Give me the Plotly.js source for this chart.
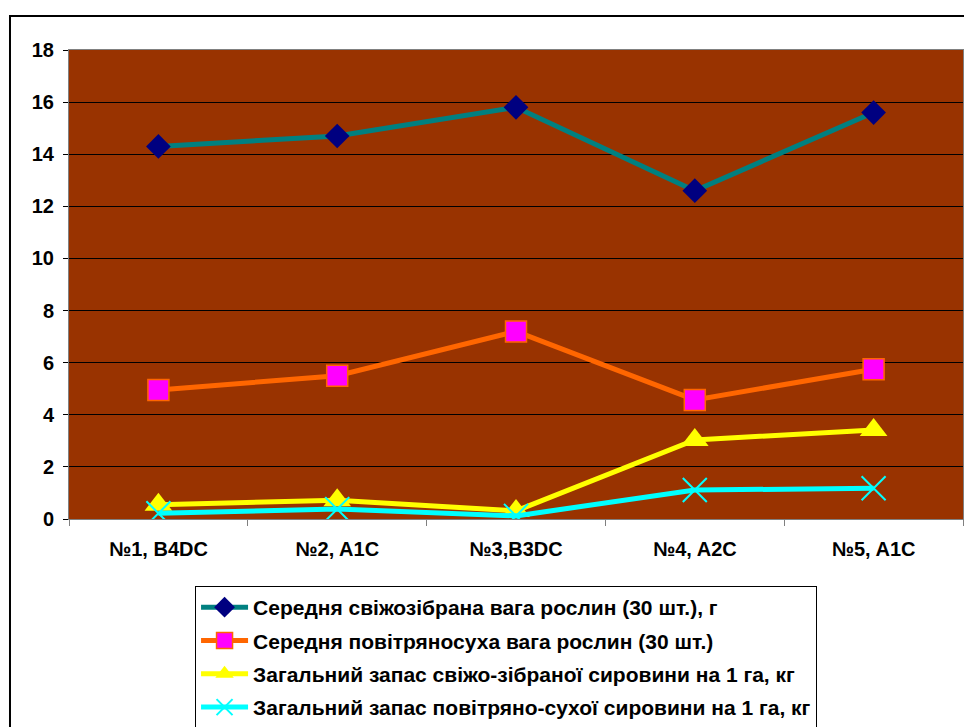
<!DOCTYPE html>
<html>
<head>
<meta charset="utf-8">
<script src="https://cdn.plot.ly/plotly-3.0.1.min.js"></script>
<style>
  html, body { margin: 0; padding: 0; background: #ffffff; }
  #chart { width: 964px; height: 727px; }
</style>
</head>
<body>
<div id="chart"></div>
<script>
// Sample plots (category labels)
const categories = ["№1, B4DC", "№2, A1C", "№3,B3DC", "№4, A2C", "№5, A1C"];

// Series names
const seriesNames = [
  "Середня свіжозібрана вага рослин (30 шт.), г",
  "Середня повітряносуха вага рослин (30 шт.)",
  "Загальний запас свіжо-зібраної сировини на 1 га, кг",
  "Загальний запас повітряно-сухої сировини на 1 га, кг"
];

// Values per series
const freshWeight = [14.3, 14.7, 15.8, 12.6, 15.6];
const airDryWeight = [4.95, 5.5, 7.2, 4.57, 5.75];
const freshStock = [0.55, 0.72, 0.31, 3.03, 3.42];
const dryStock = [0.22, 0.38, 0.12, 1.11, 1.18];

const yTicks = [0, 2, 4, 6, 8, 10, 12, 14, 16, 18];

const font = { family: "Arial, 'Liberation Sans', sans-serif", color: "#000000" };

const traces = [
  {
    x: categories, y: freshWeight, name: seriesNames[0], legendgroup: "a",
    type: "scatter", mode: "lines+markers",
    line: { color: "#008080", width: 5 },
    marker: { symbol: "diamond", size: 19, color: "#000080", line: { width: 0 } }
  },
  {
    x: categories, y: airDryWeight, name: seriesNames[1], legendgroup: "b",
    type: "scatter", mode: "lines+markers",
    line: { color: "#FF6600", width: 5 },
    marker: { symbol: "square", size: 21, color: "#FF00FF", line: { color: "#FF6600", width: 1.5 } }
  },
  {
    x: categories, y: freshStock, name: seriesNames[2], legendgroup: "c",
    type: "scatter", mode: "lines+markers",
    line: { color: "#FFFF00", width: 5 },
    marker: { symbol: "triangle-up", size: 24, color: "#FFFF00", line: { width: 0 } }
  },
  {
    x: categories, y: dryStock, name: seriesNames[3], legendgroup: "d",
    type: "scatter", mode: "lines+markers",
    line: { color: "#00FFFF", width: 5 },
    marker: { symbol: "x-thin-open", size: 24, color: "#00FFFF", line: { color: "#00FFFF", width: 2 } }
  }
];

const layout = {
  width: 964, height: 727,
  margin: { l: 69, r: 1, t: 50, b: 208, autoexpand: false },
  paper_bgcolor: "#ffffff",
  plot_bgcolor: "#993300",
  showlegend: true,
  font: font,
  xaxis: {
    type: "category",
    tickson: "boundaries",
    ticks: "outside", ticklen: 6, tickcolor: "#808080", tickwidth: 1,
    ticklabelstandoff: 12,
    showline: true, linecolor: "#808080", linewidth: 1, mirror: true,
    showgrid: false, zeroline: false,
    tickfont: { family: font.family, size: 20, color: "#000000", weight: "bold" },
    range: [-0.5, 4.5]
  },
  yaxis: {
    range: [0, 18],
    tickvals: yTicks,
    ticktext: yTicks.map(String),
    ticks: "outside", ticklen: 5, tickcolor: "#000000", tickwidth: 1,
    ticklabelstandoff: 5,
    showline: true, linecolor: "#808080", linewidth: 1, mirror: true,
    showgrid: true, gridcolor: "#000000", gridwidth: 1,
    zeroline: false,
    tickfont: { family: font.family, size: 20, color: "#000000", weight: "bold" }
  },
  legend: {
    x: 0.141, y: -0.143, xanchor: "left", yanchor: "top",
    bgcolor: "#ffffff", bordercolor: "#000000", borderwidth: 1,
    font: { family: font.family, size: 21, color: "#000000", weight: "bold" },
    traceorder: "grouped", tracegroupgap: 3,
    itemwidth: 47
  },
  shapes: [
    // outer chart frame
    {
      type: "rect", xref: "paper", yref: "paper",
      x0: -0.066, x1: 1.2, y0: -0.6, y1: 1.0725,
      line: { color: "#000000", width: 2 }, fillcolor: "rgba(0,0,0,0)", layer: "below"
    }
  ]
};

Plotly.newPlot("chart", traces, layout, { staticPlot: true, displayModeBar: false });
</script>
</body>
</html>
